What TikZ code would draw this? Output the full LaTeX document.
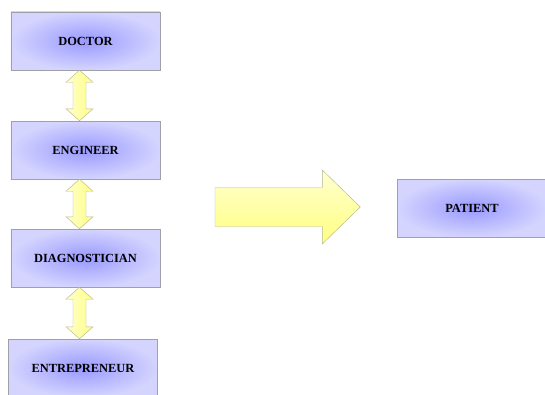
\documentclass[tikz,border=0pt]{standalone}
\usepackage{fontspec}
\setmainfont{Liberation Serif}
\usetikzlibrary{calc}

\definecolor{boxinner}{HTML}{9999FF}
\definecolor{boxouter}{HTML}{D4D4FF}
\definecolor{boxline}{HTML}{A0A0A8}
\definecolor{arrowlight}{HTML}{FFFFD0}
\definecolor{arrowdark}{HTML}{FFFF80}
\definecolor{arrowline}{HTML}{B8B890}

% vertical two-headed block arrow between two boxes
\newcommand{\roleLink}[2]{
  \coordinate (t) at ($(#1.south)+(-6,0)$);
  \coordinate (b) at (t |- #2.north);
  \draw[linksty] (t) -- ($(t)+(13.5,12)$) -- ($(t)+(6.5,12)$) -- ($(b)+(6.5,-12)$)
    -- ($(b)+(13.5,-12)$) -- (b) -- ($(b)+(-13.5,-12)$) -- ($(b)+(-6.5,-12)$)
    -- ($(t)+(-6.5,12)$) -- ($(t)+(-13.5,12)$) -- cycle;
}

\begin{document}
\begin{tikzpicture}[
  x=0.03cm, y=-0.03cm,
  rolesty/.style={rectangle, draw=boxline, inner color=boxinner, outer color=boxouter,
    minimum width=4.47cm, minimum height=1.74cm,
    font=\bfseries\fontsize{10.6}{12}\selectfont},
  linksty/.style={draw=arrowline, left color=arrowlight, right color=arrowdark},
  bigsty/.style={draw=arrowline, top color=arrowlight, bottom color=arrowdark}]

\useasboundingbox (0,0) rectangle (545,394);

\node[rolesty] (doctor)        at (85.5,41)  {DOCTOR};
\node[rolesty] (engineer)      at (85.5,150) {ENGINEER};
\node[rolesty] (diagnostician) at (85.5,258) {DIAGNOSTICIAN};
\node[rolesty] (entrepreneur)  at (83,368)   {ENTREPRENEUR};

\node[rolesty] (patient) at (472,208) {PATIENT};

\roleLink{doctor}{engineer}
\roleLink{engineer}{diagnostician}
\roleLink{diagnostician}{entrepreneur}

% big arrow towards the patient
\coordinate (tail) at (215,207);
\coordinate (tip) at ($(patient.west)+(-37,-1)$);
\draw[bigsty] ($(tail)+(0,-19.5)$) -- ($(tip)+(-38,-19.5)$) -- ($(tip)+(-38,-37)$) -- (tip)
  -- ($(tip)+(-38,37)$) -- ($(tip)+(-38,19.5)$) -- ($(tail)+(0,19.5)$) -- cycle;

\end{tikzpicture}
\end{document}
